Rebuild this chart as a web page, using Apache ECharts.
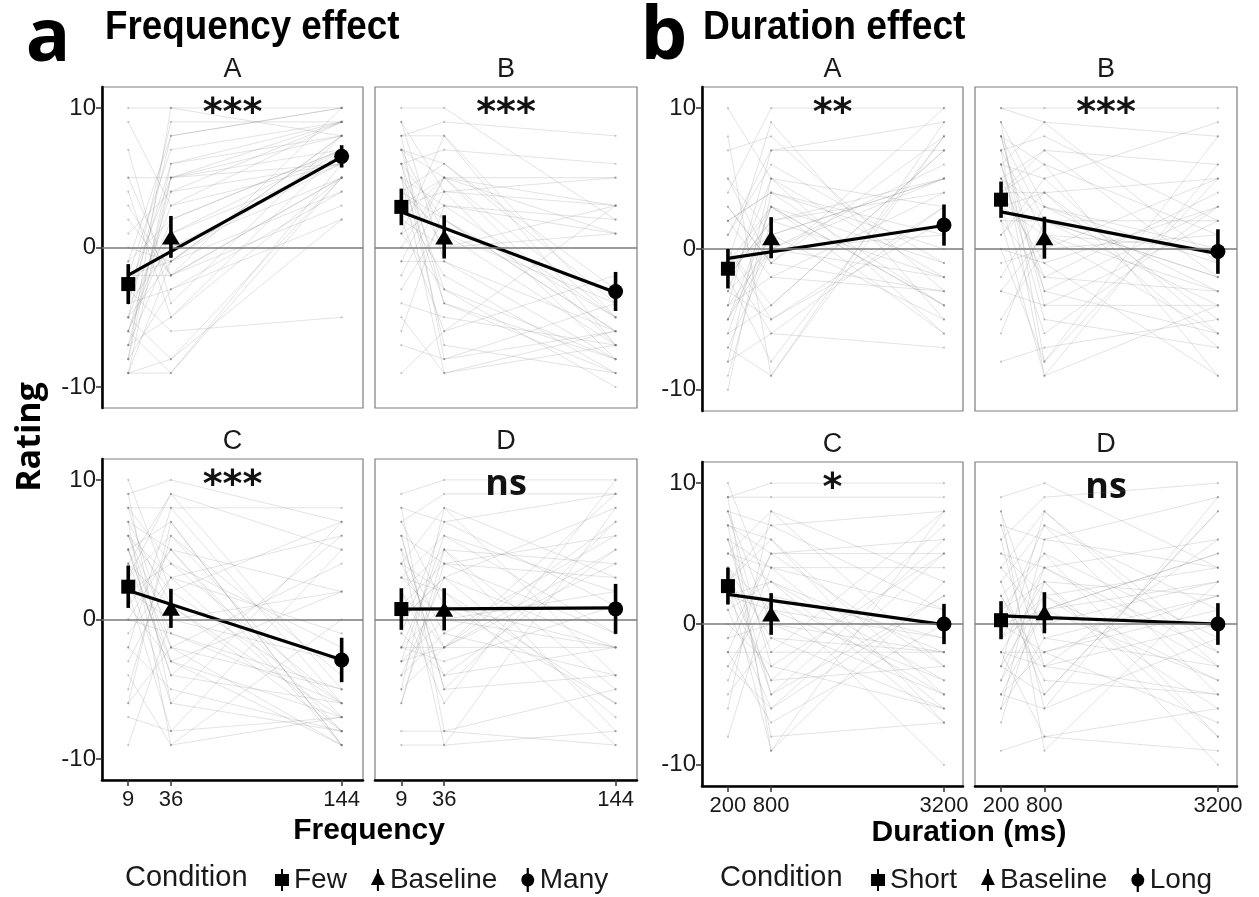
<!DOCTYPE html>
<html><head><meta charset="utf-8">
<script src="https://cdn.jsdelivr.net/npm/echarts@6/dist/echarts.min.js"></script>
<style>html,body{margin:0;padding:0;background:#fff}#c{width:1259px;height:897px}</style>
</head><body><div id="c"></div>
<script>
// ---------- data ----------
const freqTicks = [9, 36, 144];
const durTicks = [200, 800, 3200];
const ratingTicks = [-10, 0, 10];
const freqConds = ['Few', 'Baseline', 'Many'];
const durConds = ['Short', 'Baseline', 'Long'];
const freqRange = [-7.6, 157.5];
const durRange = [-160, 3464];
const ratingRange = [-11.5, 11.5];

// panel means [cond1, baseline, cond3], error half-widths, fitted line [start, end]
const aA_mean = [-2.62, 0.76, 6.53], aA_err = [1.43, 1.5, 0.8], aA_fit = [-1.98, 6.49];
const aB_mean = [2.91, 0.76, -3.15], aB_err = [1.31, 1.55, 1.4], aB_fit = [2.55, -3.22];
const aC_mean = [2.35, 0.8, -2.9], aC_err = [1.52, 1.4, 1.59], aC_fit = [2.08, -2.89];
const aD_mean = [0.75, 0.73, 0.76], aD_err = [1.49, 1.51, 1.79], aD_fit = [0.74, 0.84];
const bA_mean = [-1.4, 0.8, 1.7], bA_err = [1.4, 1.46, 1.46], bA_fit = [-0.67, 1.67];
const bB_mean = [3.5, 0.8, -0.18], bB_err = [1.29, 1.49, 1.58], bB_fit = [2.64, -0.33];
const bC_mean = [2.69, 0.71, 0.0], bC_err = [1.31, 1.48, 1.43], bC_fit = [2.1, -0.05];
const bD_mean = [0.27, 0.8, 0.0], bD_err = [1.35, 1.46, 1.48], bD_fit = [0.57, 0.0];

// individual participants [cond1, baseline, cond3]
const aA_people = [[10,10,10],[9,3,9],[7,-4,8],[5,5,6],[5,-2,5],[4,-5,7],[-1,8,10],[-1,2,7],[-2,-2,3],[-2,7,9],
[-2,-1,8],[-3,1,6],[-3,5,7],[-3,-6,-5],[-4,9,9],[-4,0,5],[-4,6,8],[-4,-3,2],[-5,3,6],[-5,-1,4],
[-5,8,10],[-5,-8,5],[-6,2,7],[-6,4,9],[-6,-9,6],[-6,1,7],[-7,5,8],[-7,-5,5],[-7,0,6],[-8,6,9],
[-8,-3,4],[-8,10,8],[-9,-9,5],[-9,-1,7],[-9,5,9],[-9,-8,2],[2,-2,10],[1,4,6],[3,-2,5],[0,-1,8]];
const aB_people = [[10,10,2],[9,-1,-6],[8,8,-7],[8,9,8],[7,5,-5],[7,-4,-8],[6,2,-6],[6,7,6],[5,-9,-7],[5,3,1],
[4,6,-4],[3,-2,-9],[3,5,5],[2,-6,-2],[9,4,-8],[8,-8,-6],[7,1,-7],[6,-3,-10],[5,0,1],[4,2,-5],
[-1,5,1],[-2,4,3],[-4,-5,-7],[-5,-9,-6],[-6,3,2],[-7,-8,-4],[-9,-6,3],[-1,-1,-8],[7,6,-3],[6,-7,-9],
[2,0,3],[1,8,-5],[0,5,-7],[4,1,-4],[-3,2,-6],[5,-4,-9],[3,4,5],[1,-3,-8],[1,3,-5],[2,5,3]];
const aC_people = [[10,2,-6],[9,10,7],[8,8,8],[8,-2,-9],[7,5,-8],[7,-9,-7],[6,3,6],[6,-1,-5],[5,7,-9],[5,-4,-6],
[4,9,5],[4,1,-8],[3,-6,7],[3,6,-4],[2,-8,-7],[2,4,-2],[1,-3,2],[0,5,-9],[-2,8,-6],[-2,-5,-8],
[-3,3,-1],[-4,-9,0],[-5,6,-7],[-6,-2,-5],[-6,7,-9],[-7,-8,5],[-9,0,-3],[8,4,-6],[9,-6,-8],[6,2,7],
[7,1,-7],[5,-4,6],[3,9,-5],[4,-3,-9],[2,0,2],[1,5,2],[-1,3,-8],[0,-1,-6],[5,-2,4],[6,-3,-7]];
const aD_people = [[9,10,10],[8,-8,-9],[8,7,9],[7,1,-6],[7,9,9],[6,-5,-4],[6,4,6],[5,-9,8],[4,8,3],[4,2,-9],
[3,6,-1],[2,-2,7],[2,5,-5],[1,-6,10],[0,3,-2],[-1,7,1],[-1,-4,5],[-2,5,-8],[-2,-2,4],[-3,0,-2],
[-3,6,2],[-4,3,-7],[-4,-1,6],[-5,8,-4],[-5,-2,9],[-6,4,-1],[-8,-8,-5],[-9,-9,-8],[-2,1,-2],[6,-5,7],
[3,2,-6],[1,4,3],[-3,-2,5],[5,-1,-4],[0,3,8],[2,-4,-2],[-2,-3,1],[4,-2,-2],[-6,5,4],[3,0,2]];
const bA_people = [[10,5,-2],[8,-9,9],[7,8,-3],[5,1,5],[4,10,10],[3,-1,8],[2,4,-4],[1,7,7],[0,-5,3],[-1,3,-1],
[-1,9,-5],[-2,2,4],[-2,-8,8],[-3,5,-6],[-3,0,1],[-4,7,9],[-4,-2,-3],[-5,1,5],[-5,0,-2],[-6,-4,7],
[-6,3,-6],[-7,-9,8],[-8,5,3],[-8,-6,-7],[-9,2,5],[-10,4,1],[5,-1,-3],[3,-1,10],[2,-2,4],[-2,3,-4],
[0,-4,7],[1,6,-1],[-3,-5,2],[-1,1,-5],[-4,0,6],[-1,-6,3],[-2,2,-2],[-7,0,5],[2,4,0],[-5,3,-4]];
const bB_people = [[10,10,10],[10,9,8],[9,-8,5],[8,6,1],[8,-3,-6],[7,8,2],[7,-9,-4],[6,5,9],[6,-5,-7],[5,2,-2],
[5,7,6],[4,-1,-9],[4,4,-5],[3,-6,3],[3,1,0],[2,-2,-3],[1,5,-6],[0,-8,8],[-2,3,-1],[-3,-4,-4],
[-5,0,5],[-6,2,-2],[-8,-7,-5],[9,3,-3],[8,-4,2],[7,1,-6],[6,9,-1],[5,-2,4],[4,6,-9],[2,-9,6],
[1,4,-7],[-1,0,1],[3,4,5],[8,2,-4],[6,-3,3],[4,7,-2],[0,-1,3],[5,3,0],[2,2,2],[-3,1,-3]];
const bC_people = [[10,2,-5],[9,10,10],[9,9,9],[8,-3,-6],[8,7,8],[7,5,5],[7,-8,-7],[6,4,4],[6,-5,2],[5,8,-3],
[4,1,-1],[3,-9,8],[3,6,-7],[2,-4,7],[1,3,-4],[-1,5,6],[-2,-2,-2],[-3,-6,5],[-4,4,1],[-5,-1,-6],
[-6,8,3],[-8,2,-10],[9,-9,3],[8,0,-2],[7,6,-5],[6,-2,8],[5,3,-7],[4,-5,6],[3,7,1],[2,1,-4],
[0,-3,5],[5,4,-6],[1,-6,2],[-2,5,-3],[4,-1,-2],[-3,2,-1],[-1,0,-5],[3,-4,-3],[2,3,-2],[-2,-7,0]];
const bD_people = [[9,10,4],[8,-9,3],[7,6,9],[7,-3,-5],[6,9,10],[5,2,-6],[4,8,-3],[3,-5,8],[2,5,-8],[0,7,1],
[-1,4,6],[-2,-8,-9],[-2,3,2],[-3,8,-2],[-4,1,5],[-5,-2,-7],[-6,6,4],[-7,3,-10],[-9,-8,-6],[8,-1,2],
[6,-6,9],[5,4,-3],[4,0,3],[3,7,-5],[2,-3,6],[1,5,-1],[0,-2,2],[-1,2,-4],[-2,-2,1],[-3,-5,8],
[-4,4,-2],[-5,1,5],[-6,-1,-3],[1,3,-8],[-2,-3,0],[2,-4,-5],[-3,2,4],[-5,-6,-1],[0,1,-4],[-1,1,3]];

const panelTitles = ['A', 'B', 'C', 'D'];
const freqSig = ['***', '***', '***', 'ns'];
const durSig = ['**', '***', '*', 'ns'];

// ---------- layout / styles ----------
const SANS = "'Liberation Sans',Arial,sans-serif";
const OPEN = "'Open Sans','Noto Sans',sans-serif";
const DEJA = "'DejaVu Sans',sans-serif";
const TXT = '#1a1a1a';

const panels = [
  {key:'aA', xs:freqTicks, xr:freqRange, people:aA_people, mean:aA_mean, err:aA_err, fit:aA_fit, names:freqConds, sig:freqSig[0], title:panelTitles[0],
   box:[102,87,261,321], leftAxis:true, bottomAxis:false},
  {key:'aB', xs:freqTicks, xr:freqRange, people:aB_people, mean:aB_mean, err:aB_err, fit:aB_fit, names:freqConds, sig:freqSig[1], title:panelTitles[1],
   box:[375,87,262,321], leftAxis:false, bottomAxis:false},
  {key:'aC', xs:freqTicks, xr:freqRange, people:aC_people, mean:aC_mean, err:aC_err, fit:aC_fit, names:freqConds, sig:freqSig[2], title:panelTitles[2],
   box:[102,459,261,321], leftAxis:true, bottomAxis:true},
  {key:'aD', xs:freqTicks, xr:freqRange, people:aD_people, mean:aD_mean, err:aD_err, fit:aD_fit, names:freqConds, sig:freqSig[3], title:panelTitles[3],
   box:[375,459,262,321], leftAxis:false, bottomAxis:true},
  {key:'bA', xs:durTicks, xr:durRange, people:bA_people, mean:bA_mean, err:bA_err, fit:bA_fit, names:durConds, sig:durSig[0], title:panelTitles[0],
   box:[702,87,261,324], leftAxis:true, bottomAxis:false},
  {key:'bB', xs:durTicks, xr:durRange, people:bB_people, mean:bB_mean, err:bB_err, fit:bB_fit, names:durConds, sig:durSig[1], title:panelTitles[1],
   box:[975,87,262,324], leftAxis:false, bottomAxis:false},
  {key:'bC', xs:durTicks, xr:durRange, people:bC_people, mean:bC_mean, err:bC_err, fit:bC_fit, names:durConds, sig:durSig[2], title:panelTitles[2],
   box:[702,462,261,324], leftAxis:true, bottomAxis:true},
  {key:'bD', xs:durTicks, xr:durRange, people:bD_people, mean:bD_mean, err:bD_err, fit:bD_fit, names:durConds, sig:durSig[3], title:panelTitles[3],
   box:[975,462,262,324], leftAxis:false, bottomAxis:true}
];

const shapes = ['rect', 'triangle', 'circle'];
const sizes = [14, [18, 15], 15];

const grid = [], xAxis = [], yAxis = [], series = [], graphic = [];

panels.forEach((p, i) => {
  const [l, t, w, h] = p.box;
  grid.push({left:l, top:t, width:w, height:h, show:true, borderColor:'#7f7f7f', borderWidth:1.2, backgroundColor:'#ffffff'});
  xAxis.push({type:'value', gridIndex:i, min:p.xr[0], max:p.xr[1],
    axisLine:{show:p.bottomAxis, onZero:false, lineStyle:{color:'#000', width:2.6}},
    axisTick:{show:p.bottomAxis, customValues:p.xs, length:6, lineStyle:{color:'#333', width:1.5}},
    axisLabel:{show:p.bottomAxis, customValues:p.xs, formatter:v => String(v), fontSize:22, fontFamily:SANS, color:TXT, margin:9},
    splitLine:{show:false}});
  yAxis.push({type:'value', gridIndex:i, min:ratingRange[0], max:ratingRange[1],
    axisLine:{show:p.leftAxis, onZero:false, lineStyle:{color:'#000', width:2.6}},
    axisTick:{show:p.leftAxis, customValues:ratingTicks, length:6, lineStyle:{color:'#333', width:1.5}},
    axisLabel:{show:p.leftAxis, customValues:ratingTicks, formatter:v => String(v), fontSize:24, fontFamily:SANS, color:TXT, margin:6},
    splitLine:{show:false}});

  // individual participants
  series.push({type:'custom', xAxisIndex:i, yAxisIndex:i, silent:true, z:1, data:p.people, encode:{x:0, y:1},
    renderItem:(params, api) => {
      const pts = p.xs.map((x, k) => api.coord([x, api.value(k)]));
      const children = [{type:'polyline', shape:{points:pts}, style:{stroke:'rgba(125,125,125,0.24)', lineWidth:0.9, fill:null}}];
      pts.forEach(pt => children.push({type:'circle', shape:{cx:pt[0], cy:pt[1], r:1.1}, style:{fill:'rgba(110,110,110,0.38)'}}));
      return {type:'group', children};
    }});

  // zero reference line
  series.push({type:'line', xAxisIndex:i, yAxisIndex:i, silent:true, z:2, data:[],
    markLine:{silent:true, symbol:'none', label:{show:false}, lineStyle:{color:'#7a7a7a', width:1.7, type:'solid'}, data:[{yAxis:0}]}});

  // fitted line
  series.push({type:'line', xAxisIndex:i, yAxisIndex:i, silent:true, z:4, symbol:'none',
    data:[[p.xs[0], p.fit[0]], [p.xs[2], p.fit[1]]], lineStyle:{color:'#000', width:3.2}});

  // error bars
  series.push({type:'custom', xAxisIndex:i, yAxisIndex:i, silent:true, z:5,
    data:p.xs.map((x, k) => [x, p.mean[k], p.err[k]]),
    renderItem:(params, api) => {
      const x = api.value(0), m = api.value(1), e = api.value(2);
      const a = api.coord([x, m + e]), b = api.coord([x, m - e]);
      return {type:'line', shape:{x1:a[0], y1:a[1], x2:b[0], y2:b[1]}, style:{stroke:'#000', lineWidth:3.6}};
    }});

  // mean markers
  p.names.forEach((nm, k) => series.push({type:'scatter', name:nm, xAxisIndex:i, yAxisIndex:i, z:6, silent:true,
    symbol:shapes[k], symbolSize:sizes[k], itemStyle:{color:'#000', opacity:1},
    data:[[p.xs[k], p.mean[k]]]}));

  // facet title + significance
  graphic.push({type:'text', x:l + w / 2, y:t - 17, silent:true,
    style:{text:p.title, font:'27px ' + SANS, fill:TXT, textAlign:'center', textVerticalAlign:'middle'}});
  const isNs = p.sig === 'ns';
  graphic.push({type:'text', x:l + w / 2, y:t + (isNs ? 26 : 27), silent:true,
    style:{text:p.sig, font: isNs ? ('bold 36px ' + OPEN) : ('bold 38px ' + DEJA), fill:'#111', textAlign:'center', textVerticalAlign:'middle'}});
});

// headings and axis titles
graphic.push(
  {type:'text', x:48, y:40, silent:true, style:{text:'a', font:'bold 74px ' + OPEN, fill:'#000', textAlign:'center', textVerticalAlign:'middle'}},
  {type:'text', x:664, y:38, silent:true, style:{text:'b', font:'bold 74px ' + OPEN, fill:'#000', textAlign:'center', textVerticalAlign:'middle'}},
  {type:'text', x:105, y:28, scaleX:0.92, silent:true, style:{text:'Frequency effect', font:'bold 40px ' + SANS, fill:'#000', textAlign:'left', textVerticalAlign:'middle'}},
  {type:'text', x:703, y:28, scaleX:0.93, silent:true, style:{text:'Duration effect', font:'bold 40px ' + SANS, fill:'#000', textAlign:'left', textVerticalAlign:'middle'}},
  {type:'text', x:369, y:831, silent:true, style:{text:'Frequency', font:'bold 30px ' + SANS, fill:'#000', textAlign:'center', textVerticalAlign:'middle'}},
  {type:'text', x:969, y:833, silent:true, style:{text:'Duration (ms)', font:'bold 30px ' + SANS, fill:'#000', textAlign:'center', textVerticalAlign:'middle'}},
  {type:'text', x:30, y:437, rotation:Math.PI / 2, silent:true, style:{text:'Rating', font:'bold 34px ' + OPEN, fill:'#000', textAlign:'center', textVerticalAlign:'middle'}},
  {type:'text', x:125, y:878, silent:true, style:{text:'Condition', font:'29px ' + SANS, fill:TXT, textAlign:'left', textVerticalAlign:'middle'}},
  {type:'text', x:720, y:878, silent:true, style:{text:'Condition', font:'29px ' + SANS, fill:TXT, textAlign:'left', textVerticalAlign:'middle'}}
);

const icons = [
  'path://M6,0h2v5h6v12h-6v5h-2v-5h-6v-12h6z',
  'path://M6,0h2v4l6,12h-6v6h-2v-6h-6l6,-12z',
  'path://M6,0h2v5.1a6,6 0 0 1 0,11.8v5.1h-2v-5.1a6,6 0 0 1 0,-11.8z'
];
function legendFor(names, left) {
  return {left:left, top:861, orient:'horizontal', selectedMode:false, itemWidth:14, itemHeight:24, itemGap:24,
    textStyle:{fontSize:28, fontFamily:SANS, color:TXT},
    data:names.map((n, k) => ({name:n, icon:icons[k], itemStyle:{color:'#000'}}))};
}

const chart = echarts.init(document.getElementById('c'), null, {renderer:'canvas'});
chart.setOption({
  backgroundColor:'#ffffff',
  animation:false,
  grid, xAxis, yAxis, series, graphic,
  legend:[legendFor(freqConds, 270), legendFor(durConds, 866)]
});
</script></body></html>
